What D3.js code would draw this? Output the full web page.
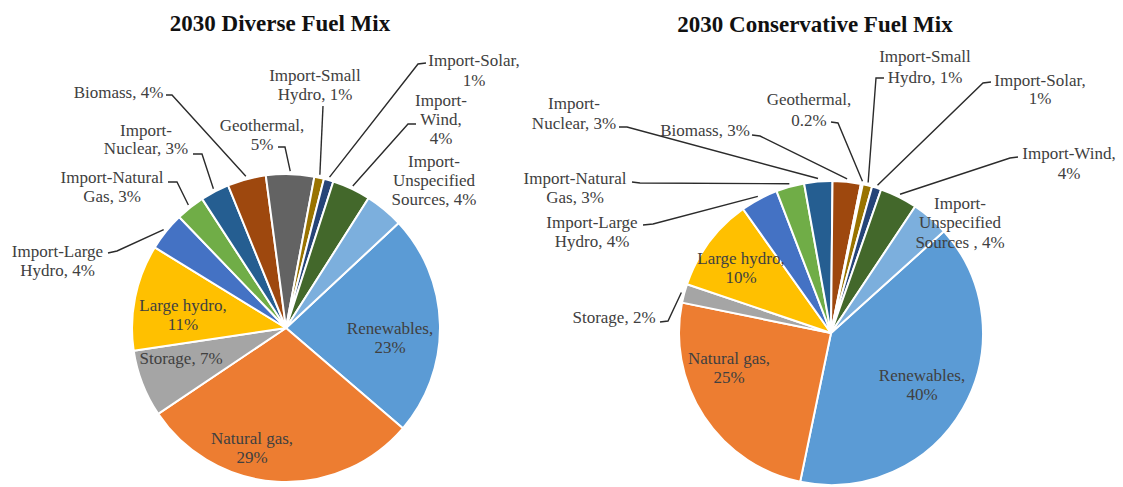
<!DOCTYPE html>
<html>
<head>
<meta charset="utf-8">
<script src="https://cdn.jsdelivr.net/npm/d3@7"></script>
<style>
  body { margin: 0; background: #fff; }
  svg { display: block; }
  text { font-family: "Liberation Serif", "DejaVu Serif", serif; }
</style>
</head>
<body>
<svg id="chart" width="1123" height="487"></svg>
<script>
// ---- data ----
const categories = [
  "Renewables", "Natural gas", "Storage", "Large hydro",
  "Import-Large Hydro", "Import-Natural Gas", "Import-Nuclear", "Biomass",
  "Geothermal", "Import-Small Hydro", "Import-Solar", "Import-Wind",
  "Import-Unspecified Sources"
];
const diverseValues      = [23, 29, 7, 11, 4, 3, 3, 4, 5,   1, 1, 4, 4];
const conservativeValues = [40, 25, 2, 10, 4, 3, 3, 3, 0.2, 1, 1, 4, 4];
const diverseTitle = "2030 Diverse Fuel Mix";
const conservativeTitle = "2030 Conservative Fuel Mix";

// ---- styles ----
const sliceColors = [
  "#5B9BD5", "#ED7D31", "#A5A5A5", "#FFC000",
  "#4472C4", "#70AD47", "#255E91", "#9E480E",
  "#636363", "#997300", "#264478", "#43682B",
  "#7CAFDD"
];
const color = d3.scaleOrdinal().domain(categories).range(sliceColors);
const FS = 17;          // label font size
const LH = 19.5;        // default label line height
const textColor = "#404040";

// ---- label layout (per category, same order as categories) ----
// x,y: centre of first line; lines: words per line; leader: start + elbow
const diverseLayout = [
  { x: 390,   y: 328, lines: [1, 1] },
  { x: 252,   y: 438, lines: [2, 1] },
  { x: 181,   y: 358, lines: [2] },
  { x: 183,   y: 305, lines: [2, 1] },
  { x: 57.5,  y: 251, lines: [2, 2], leader: [[108, 253], [117, 251]] },
  { x: 112,   y: 177, lines: [2, 2], leader: [[168, 182], [177, 182]] },
  { x: 146,   y: 130, lines: [1, 2], lh: 18.5, leader: [[193, 154], [202, 154]] },
  { x: 118.5, y: 92,  lines: [2],    leader: [[166, 95], [172, 95]] },
  { x: 262,   y: 125, lines: [1, 1], lh: 19, leader: [[278, 147], [285, 147]] },
  { x: 315,   y: 75,  lines: [2, 2], leader: [[323, 106], [323, 106]] },
  { x: 474,   y: 60,  lines: [2, 1], lh: 20, leader: [[426, 63], [418, 64]] },
  { x: 441,   y: 100, lines: [1, 1, 1], lh: 19, leader: [[416, 124], [408, 124]] },
  { x: 434,   y: 161, lines: [1, 1, 2], lh: 19 }
];
const conservativeLayout = [
  { x: 922,  y: 375, lines: [1, 1] },
  { x: 729,  y: 358, lines: [2, 1] },
  { x: 614,  y: 317, lines: [2],    leader: [[660, 322], [668, 321]] },
  { x: 741,  y: 258, lines: [2, 1] },
  { x: 592,  y: 222, lines: [2, 2], leader: [[643, 225], [653, 224]] },
  { x: 575,  y: 178, lines: [2, 2], leader: [[632, 182], [640, 183]] },
  { x: 574,  y: 103, lines: [1, 2], lh: 20, leader: [[619, 127], [627, 127]] },
  { x: 705,  y: 130, lines: [2],    leader: [[752, 135], [760, 136]] },
  { x: 809,  y: 99,  lines: [1, 1], lh: 21, leader: [[831, 122], [838, 123]] },
  { x: 925,  y: 56,  lines: [2, 2], lh: 21, leader: [[884, 78], [876, 78]] },
  { x: 1040, y: 80,  lines: [2, 1], lh: 18, leader: [[991, 82], [983, 83]] },
  { x: 1069, y: 153, lines: [2, 1], lh: 20, leader: [[1018, 157], [1010, 158]] },
  { x: 960,  y: 203, lines: [1, 1, 3], sep: " , " }
];

const charts = [
  { title: diverseTitle, values: diverseValues, layout: diverseLayout,
    cx: 286, cy: 328, r: 154, firstAngle: 47, titleX: 280, titleY: 31 },
  { title: conservativeTitle, values: conservativeValues, layout: conservativeLayout,
    cx: 831, cy: 333, r: 152, firstAngle: 48, titleX: 815, titleY: 32 }
];

const svg = d3.select("#chart");
svg.append("rect").attr("width", 1123).attr("height", 487).attr("fill", "#fff");

// split "Import-Large Hydro, 4%" into words, breaking after hyphens too
function labelLines(text, counts) {
  const tokens = text.split(/(?<=-)|\s+/).filter(t => t.length);
  const out = [];
  let i = 0;
  counts.forEach(n => {
    let line = "";
    tokens.slice(i, i + n).forEach((t, k, arr) => {
      line += t;
      if (k < arr.length - 1 && !t.endsWith("-")) line += " ";
    });
    out.push(line);
    i += n;
  });
  return out;
}

charts.forEach(ch => {
  const data = categories.map((c, i) => ({ name: c, value: ch.values[i], layout: ch.layout[i] }));
  const a0 = ch.firstAngle * Math.PI / 180;
  const pie = d3.pie().sort(null).value(d => d.value)
    .startAngle(a0).endAngle(a0 + 2 * Math.PI);
  const arcs = pie(data);
  const arc = d3.arc().innerRadius(0).outerRadius(ch.r);
  const edge = d3.arc().innerRadius(ch.r + 3).outerRadius(ch.r + 3);

  const g = svg.append("g");

  // title
  g.append("text")
    .attr("x", ch.titleX).attr("y", ch.titleY)
    .attr("text-anchor", "middle")
    .attr("font-size", 23).attr("font-weight", "bold")
    .attr("fill", "#111")
    .text(ch.title);

  const pieG = g.append("g").attr("transform", `translate(${ch.cx},${ch.cy})`);
  pieG.selectAll("path.slice")
    .data(arcs)
    .join("path")
    .attr("class", "slice")
    .attr("d", arc)
    .attr("fill", d => color(d.data.name))
    .attr("stroke", "#fff")
    .attr("stroke-width", 2)
    .attr("stroke-linejoin", "round");

  // leader lines
  const line = d3.line();
  g.selectAll("path.leader")
    .data(arcs.filter(d => d.data.layout.leader))
    .join("path")
    .attr("class", "leader")
    .attr("d", d => {
      const [ex, ey] = edge.centroid(d);
      const pts = d.data.layout.leader.concat([[ch.cx + ex, ch.cy + ey]]);
      return line(pts);
    })
    .attr("fill", "none")
    .attr("stroke", "#2b2b2b")
    .attr("stroke-width", 1.4);

  // labels
  arcs.forEach(d => {
    const L = d.data.layout;
    const txt = d.data.name + (L.sep || ", ") + d.data.value + "%";
    const lines = labelLines(txt, L.lines);
    const lh = L.lh || LH;
    const t = g.append("text")
      .attr("text-anchor", "middle")
      .attr("font-size", FS)
      .attr("fill", textColor);
    lines.forEach((s, k) => {
      t.append("tspan")
        .attr("x", L.x)
        .attr("y", L.y + k * lh + FS * 0.33)
        .text(s);
    });
  });
});
</script>
</body>
</html>
